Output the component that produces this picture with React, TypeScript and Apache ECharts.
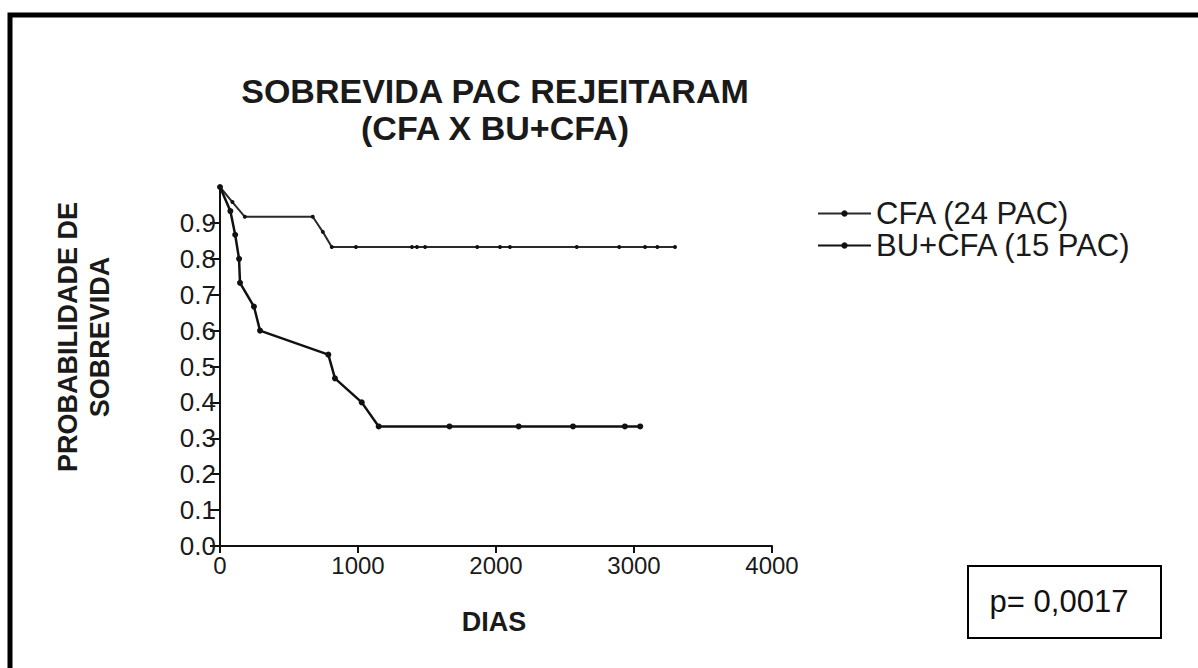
import React, { useEffect, useRef } from "react";
import * as echarts from "echarts";

const titleLines = ["SOBREVIDA PAC REJEITARAM", "(CFA X BU+CFA)"];
const yNameLines = ["PROBABILIDADE DE", "SOBREVIDA"];
const xName = "DIAS";
const seriesNames = ["CFA (24 PAC)", "BU+CFA (15 PAC)"];
const yTicks = [0, 0.1, 0.2, 0.3, 0.4, 0.5, 0.6, 0.7, 0.8, 0.9];

// CFA: [days, survival]
const cfaDays = [0, 90, 180, 672, 745, 810, 985, 1391, 1427, 1486, 1864, 2029, 2101, 2585, 2893, 3080, 3169, 3297];
const cfaSurv = [1.0, 0.958, 0.917, 0.917, 0.875, 0.833, 0.833, 0.833, 0.833, 0.833, 0.833, 0.833, 0.833, 0.833, 0.833, 0.833, 0.833, 0.833];

// BU+CFA
const buDays = [0, 75, 110, 138, 145, 246, 290, 785, 833, 1027, 1150, 1663, 2164, 2558, 2934, 3045];
const buSurv = [1.0, 0.933, 0.867, 0.8, 0.733, 0.667, 0.6, 0.533, 0.467, 0.4, 0.333, 0.333, 0.333, 0.333, 0.333, 0.333];

const pText = "p= 0,0017";

export default function App() {
  const ref = useRef<HTMLDivElement>(null);
  useEffect(() => {
    document.body.style.margin = "0";
    const chart = echarts.init(ref.current!, null, { renderer: "svg" });
    const font = "'Liberation Sans', Arial, sans-serif";
    const dark = "#1a1a1a";
    chart.setOption({
      animation: false,
      backgroundColor: "#ffffff",
      textStyle: { fontFamily: font },
      title: {
        text: titleLines.join("\n"),
        left: 490,
        top: 67,
        textAlign: "center",
        textStyle: { fontSize: 34, fontWeight: "bold", color: dark, lineHeight: 37, fontFamily: font },
      },
      legend: {
        orient: "vertical",
        left: 812,
        top: 193,
        itemWidth: 53,
        itemHeight: 8,
        itemGap: 1,
        data: seriesNames,
        textStyle: { fontSize: 31, color: dark, fontFamily: font, padding: [0, 0, 0, 0] },
      },
      grid: { left: 220, right: 426, top: 187, bottom: 122 },
      xAxis: {
        type: "value",
        min: 0,
        max: 4000,
        interval: 1000,
        axisLine: { lineStyle: { color: "#111", width: 2 } },
        axisTick: { length: 7, lineStyle: { color: "#111", width: 2 } },
        axisLabel: {
          fontSize: 24,
          color: dark,
          margin: 7,
          showMaxLabel: true,
          formatter: (v: number) => String(v),
          fontFamily: font,
        },
        splitLine: { show: false },
      },
      yAxis: {
        type: "value",
        min: 0,
        max: 1,
        axisLine: { show: true, lineStyle: { color: "#111", width: 2 } },
        axisTick: { show: true, length: 10, customValues: yTicks, lineStyle: { color: "#111", width: 2 } },
        axisLabel: {
          fontSize: 26,
          color: dark,
          margin: 4,
          customValues: yTicks,
          formatter: (v: number) => v.toFixed(1),
          fontFamily: font,
        },
        splitLine: { show: false },
      },
      series: [
        {
          name: seriesNames[0],
          type: "line",
          data: cfaDays.map((d, i) => [d, cfaSurv[i]]),
          symbol: "circle",
          symbolSize: 4,
          lineStyle: { color: "#2a2a2a", width: 2 },
          itemStyle: { color: "#111" },
        },
        {
          name: seriesNames[1],
          type: "line",
          data: buDays.map((d, i) => [d, buSurv[i]]),
          symbol: "circle",
          symbolSize: 6,
          lineStyle: { color: "#111", width: 2.5 },
          itemStyle: { color: "#111" },
        },
      ],
      graphic: [
        {
          type: "rect",
          shape: { x: 10, y: 15, width: 1300, height: 800 },
          style: { fill: "none", stroke: "#000", lineWidth: 5 },
          silent: true,
        },
        {
          type: "text",
          x: 68,
          y: 337,
          rotation: Math.PI / 2,
          style: {
            text: yNameLines[0],
            fontSize: 27,
            fontWeight: "bold",
            fontFamily: font,
            fill: dark,
            align: "center",
            verticalAlign: "middle",
          },
        },
        {
          type: "text",
          x: 100,
          y: 337,
          rotation: Math.PI / 2,
          style: {
            text: yNameLines[1],
            fontSize: 27,
            fontWeight: "bold",
            fontFamily: font,
            fill: dark,
            align: "center",
            verticalAlign: "middle",
          },
        },
        {
          type: "text",
          x: 494,
          y: 622,
          style: {
            text: xName,
            fontSize: 27,
            fontWeight: "bold",
            fontFamily: font,
            fill: dark,
            align: "center",
            verticalAlign: "middle",
          },
        },
        {
          type: "rect",
          shape: { x: 968, y: 566, width: 193, height: 72 },
          style: { fill: "#fff", stroke: "#000", lineWidth: 2 },
        },
        {
          type: "text",
          x: 1059,
          y: 601,
          style: {
            text: pText,
            fontSize: 31,
            fontFamily: font,
            fill: "#111",
            align: "center",
            verticalAlign: "middle",
          },
        },
      ],
    });
    return () => chart.dispose();
  }, []);
  return <div ref={ref} style={{ position: "absolute", left: 0, top: 0, width: 1198, height: 668 }} />;
}
